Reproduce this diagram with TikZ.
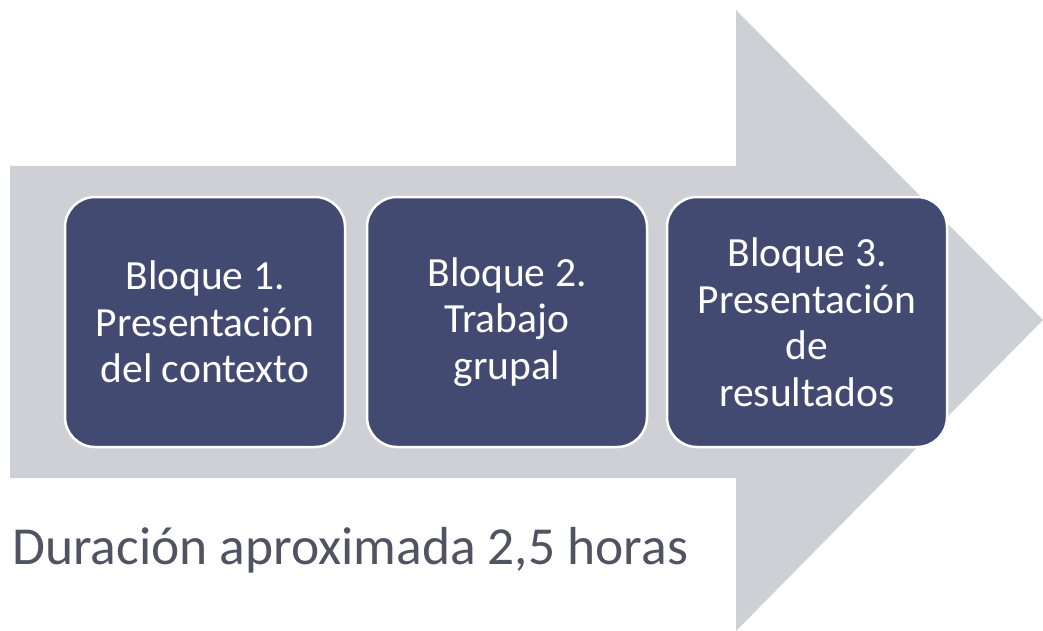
\documentclass[tikz,border=0pt]{standalone}
\usepackage{fontspec}
\setmainfont{Carlito}
\definecolor{arrowgray}{HTML}{CFD0D6}
\definecolor{boxblue}{HTML}{434A72}
\definecolor{textgray}{HTML}{505462}
\tikzset{
  blockbox/.style={draw=white, line width=2.5pt, fill=boxblue, rounded corners=30pt,
    minimum width=280pt, minimum height=250pt, align=center,
    text=white, font=\fontsize{41.5}{46.5}\selectfont, inner sep=0pt},
}
\begin{document}
\begin{tikzpicture}[x=1pt,y=-1pt]
\useasboundingbox (0,0) rectangle (1043,631);
\fill[arrowgray] (10,166) -- (736,166) -- (736,10) -- (1043,320) -- (736,631) -- (736,478) -- (10,478) -- cycle;
\node[blockbox] (b1) at (205,322) {Bloque 1.\\Presentación\\del contexto};
\node[blockbox] (b2) at (507,322) {Bloque 2.\\Trabajo\\grupal};
\node[blockbox] (b3) at (807,322) {Bloque 3.\\Presentación\\de\\resultados};
\node[anchor=base west, inner sep=0pt, text=textgray, font=\fontsize{53.5}{62}\selectfont] (dur) at (12,564) {Duración aproximada 2,5 horas};
\end{tikzpicture}
\end{document}
